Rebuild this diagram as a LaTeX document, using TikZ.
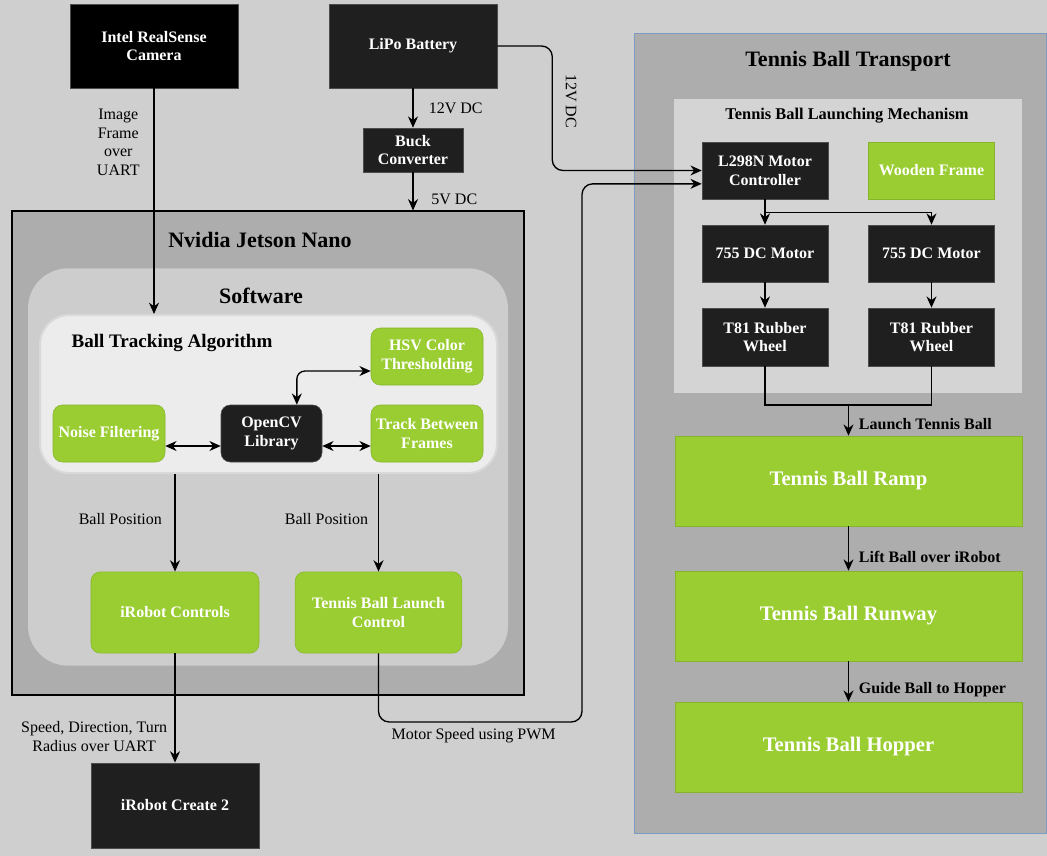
\documentclass[tikz,border=0pt]{standalone}
\usepackage{fontspec}
\setmainfont{Liberation Serif}
\usetikzlibrary{arrows.meta}
\definecolor{canvas}{HTML}{CFCFCF}
\definecolor{jetgray}{HTML}{ADADAD}
\definecolor{softgray}{HTML}{CDCDCD}
\definecolor{algogray}{HTML}{ECECEC}
\definecolor{mechgray}{HTML}{D4D4D4}
\definecolor{ballgreen}{HTML}{9ACD32}
\definecolor{greenedge}{HTML}{86B52B}
\definecolor{boxdark}{HTML}{1F1F1F}
\definecolor{frameblue}{HTML}{7C9CC4}
\tikzset{
  hwbox/.style={draw=black!70, fill=boxdark, text=white, align=center,
    font=\bfseries\fontsize{12}{14}\selectfont, inner sep=2pt},
  swbox/.style={draw=greenedge, fill=ballgreen, text=white, align=center,
    rounded corners=7pt, font=\bfseries\fontsize{12}{14}\selectfont, inner sep=2pt},
  stagebox/.style={draw=greenedge, fill=ballgreen, text=white,
    font=\bfseries\fontsize{15.5}{18}\selectfont, minimum width=260pt, minimum height=67.5pt},
  title/.style={font=\bfseries\fontsize{16.5}{19}\selectfont},
  wire/.style={draw=black, line width=1pt},
  flow/.style={wire, -{Stealth[length=8.5pt,width=7.5pt]}},
  flow2/.style={wire, {Stealth[length=8.5pt,width=7.5pt]}-{Stealth[length=8.5pt,width=7.5pt]}},
  lbl/.style={font=\fontsize{12}{14}\selectfont, align=center},
  blbl/.style={font=\bfseries\fontsize{12}{14}\selectfont},
}
\begin{document}
\begin{tikzpicture}[x=0.75pt,y=-0.75pt]
\fill[canvas] (0,0) rectangle (1047,856);
\useasboundingbox (0,0) rectangle (1047,856);
% Jetson side
\node (jetson) [draw=black, line width=0.8pt, fill=jetgray, minimum width=384pt, minimum height=363pt] at (268,453) {};
\node (jetT) [title] at (260,240) {Nvidia Jetson Nano};
\node (software) [fill=softgray, rounded corners=30pt, minimum width=360pt, minimum height=298pt] at (268,467) {};
\node (swT) [title] at (261,296) {Software};
\node (bta) [draw=black!15, line width=1.5pt, fill=algogray, rounded corners=22pt, minimum width=342.75pt, minimum height=118.5pt] at (268.5,394) {};
\node (btaT) [font=\bfseries\fontsize{14.3}{17}\selectfont] at (172,343) {Ball Tracking Algorithm};
\node (hsv) [swbox, minimum width=84pt, minimum height=42.75pt] at (427,356.5) {HSV Color\\Thresholding};
\node (noise) [swbox, minimum width=84pt, minimum height=42.75pt] at (109,433.5) {Noise Filtering};
\node (opencv) [hwbox, rounded corners=7pt, minimum width=75.75pt, minimum height=42.75pt] at (271.5,433.5) {OpenCV\\Library};
\node (track) [swbox, minimum width=84pt, minimum height=42.75pt] at (427,433.5) {Track Between\\Frames};
\node (irc) [swbox, minimum width=126pt, minimum height=61pt] at (175,612.5) {iRobot Controls};
\node (tblc) [swbox, minimum width=125pt, minimum height=61pt] at (378.5,612.5) {Tennis Ball Launch\\Control};
% outside hardware
\node (cam) [hwbox, fill=black, minimum width=126pt, minimum height=63pt] at (154,46) {Intel RealSense\\Camera};
\node (lipo) [hwbox, minimum width=126pt, minimum height=63pt] at (413,46) {LiPo Battery};
\node (buck) [hwbox, minimum width=75pt, minimum height=33pt] at (413,150) {Buck\\Converter};
\node (create) [hwbox, minimum width=126pt, minimum height=64pt] at (175,805.5) {iRobot Create 2};
% transport side
\node (tbt) [draw=frameblue, fill=jetgray, minimum width=309pt, minimum height=600pt] at (840,433) {};
\node (tbtT) [title] at (848,61) {Tennis Ball Transport};
\node (tblm) [fill=mechgray, minimum width=261pt, minimum height=220.5pt] at (848,246) {};
\node (tblmT) [font=\bfseries\fontsize{12.3}{14}\selectfont] at (847,116) {Tennis Ball Launching Mechanism};
\node (l298) [hwbox, minimum width=94.5pt, minimum height=42.75pt] at (765,170.5) {L298N Motor\\Controller};
\node (wood) [swbox, rounded corners=0pt, minimum width=94.5pt, minimum height=42.75pt] at (931.5,170.5) {Wooden Frame};
\node (m1) [hwbox, minimum width=94.5pt, minimum height=42.75pt] at (765,253.5) {755 DC Motor};
\node (m2) [hwbox, minimum width=94.5pt, minimum height=42.75pt] at (931.5,253.5) {755 DC Motor};
\node (w1) [hwbox, minimum width=94.5pt, minimum height=43.5pt] at (765,337) {T81 Rubber\\Wheel};
\node (w2) [hwbox, minimum width=94.5pt, minimum height=43.5pt] at (931.5,337) {T81 Rubber\\Wheel};
\node (ramp) [stagebox] at (848.5,481) {Tennis Ball Ramp};
\node (runway) [stagebox] at (848.5,616) {Tennis Ball Runway};
\node (hopper) [stagebox] at (848.5,747) {Tennis Ball Hopper};
%
\draw[flow] (cam.south) -- node[lbl, pos=0.24, left, xshift=-7pt] {Image\\Frame\\over\\UART} (cam.south |- bta.north);
\draw[flow] (lipo) -- node[lbl, right, xshift=8pt] {12V DC} (buck);
\draw[flow] (buck.south) -- node[lbl, pos=0.7, right, xshift=10pt] {5V DC} (buck.south |- jetson.north);
\draw[flow, rounded corners=8pt] (lipo.east) -- ++(55,0) coordinate (lipoturn) |- (l298.west);
\node (v12) [lbl, rotate=-90] at (571,101) {12V DC};
\draw[flow2] ([yshift=-9.4pt]noise.east) -- ([yshift=-9.4pt]opencv.west);
\draw[flow2] ([yshift=-9.4pt]opencv.east) -- ([yshift=-9.4pt]track.west);
\draw[flow2, rounded corners=6pt] ([xshift=19pt]opencv.north) |- ([yshift=-10.9pt]hsv.west);
\draw[flow] (irc.north |- bta.south) -- node[lbl, left, xshift=-6pt, yshift=3pt] {Ball Position} (irc.north);
\draw[flow] (tblc.north |- bta.south) -- node[lbl, left, xshift=-4pt, yshift=3pt] {Ball Position} (tblc.north);
\draw[flow] (irc) -- node[lbl, pos=0.76, left, xshift=-2pt] {Speed, Direction, Turn\\Radius over UART} (create);
\coordinate (pwmturn) at (582,722);
\draw[flow, rounded corners=8pt] (tblc.south) -- (tblc.south |- pwmturn) -- node[lbl, below, xshift=-5pt, yshift=-1pt] {Motor Speed using PWM} (pwmturn) |- ([yshift=-10pt]l298.west);
%
\draw[flow] (l298) -- (m1);
\draw[flow] (l298.south) -- ++(0,13) -| (m2.north);
\draw[flow] (m1) -- (w1);
\draw[flow] (m2) -- (w2);
\coordinate (join) at (ramp.north |- 0,405);
\draw[wire] (w1.south) |- (join) -| (w2.south);
\draw[flow] (join) -- node[blbl, right, xshift=4pt, yshift=-3pt] {Launch Tennis Ball} (ramp.north);
\draw[flow] (ramp) -- node[blbl, pos=0.7, right, xshift=4pt] {Lift Ball over iRobot} (runway);
\draw[flow] (runway) -- node[blbl, pos=0.7, right, xshift=4pt] {Guide Ball to Hopper} (hopper);
\end{tikzpicture}
\end{document}
